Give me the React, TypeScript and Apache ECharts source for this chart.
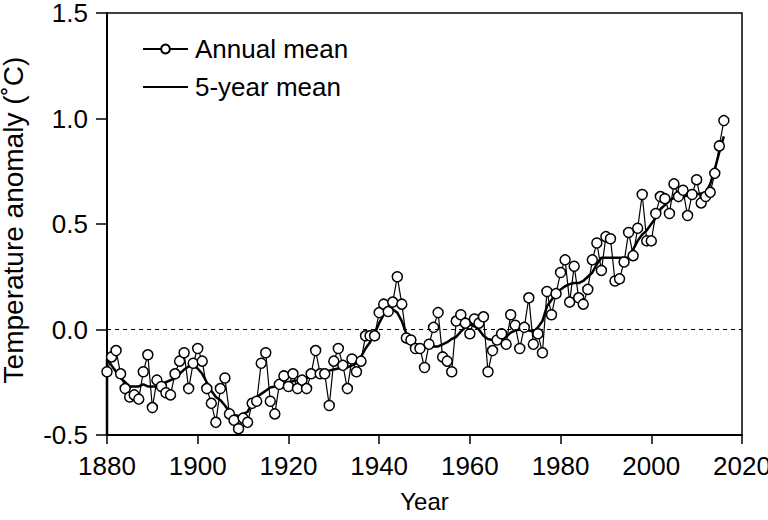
import React, { useEffect, useRef } from "react";
import * as echarts from "echarts";

const startYear = 1880;

const annualMean = [
  -0.20, -0.13, -0.10, -0.21, -0.28, -0.32, -0.31, -0.33, -0.20, -0.12,
  -0.37, -0.24, -0.27, -0.30, -0.31, -0.21, -0.15, -0.11, -0.28, -0.16,
  -0.09, -0.15, -0.28, -0.35, -0.44, -0.28, -0.23, -0.40, -0.43, -0.47,
  -0.42, -0.44, -0.35, -0.34, -0.16, -0.11, -0.34, -0.40, -0.26, -0.22,
  -0.27, -0.21, -0.28, -0.24, -0.28, -0.21, -0.10, -0.21, -0.21, -0.36,
  -0.15, -0.09, -0.17, -0.28, -0.14, -0.20, -0.15, -0.03, -0.03, -0.03,
  0.08, 0.12, 0.085, 0.13, 0.25, 0.12, -0.04, -0.05, -0.09, -0.09,
  -0.18, -0.07, 0.01, 0.08, -0.13, -0.15, -0.20, 0.04, 0.07, 0.03,
  -0.02, 0.05, 0.03, 0.06, -0.20, -0.10, -0.05, -0.02, -0.07, 0.07,
  0.02, -0.09, 0.01, 0.15, -0.07, -0.02, -0.11, 0.18, 0.07, 0.17,
  0.27, 0.33, 0.13, 0.30, 0.15, 0.12, 0.19, 0.33, 0.41, 0.28,
  0.44, 0.43, 0.23, 0.24, 0.32, 0.46, 0.35, 0.48, 0.64, 0.42,
  0.42, 0.55, 0.63, 0.62, 0.55, 0.69, 0.63, 0.66, 0.54, 0.64,
  0.71, 0.60, 0.63, 0.65, 0.74, 0.87, 0.99,
];

// the 5-year curve in the source begins with a drop to the bottom of the axis at 1880
const fiveYearLead = -0.5;
const fiveYearMean = [
  -0.14, -0.17, -0.20, -0.23, -0.25, -0.27, -0.27, -0.27, -0.26, -0.27,
  -0.27, -0.27, -0.26, -0.25, -0.24, -0.23, -0.21, -0.19, -0.175, -0.17,
  -0.185, -0.21, -0.25, -0.29, -0.32, -0.335, -0.36, -0.39, -0.405, -0.41,
  -0.40, -0.39, -0.35, -0.32, -0.305, -0.29, -0.275, -0.27, -0.26, -0.255,
  -0.25, -0.245, -0.24, -0.235, -0.23, -0.22, -0.21, -0.205, -0.20, -0.195,
  -0.19, -0.185, -0.18, -0.18, -0.17, -0.16, -0.13, -0.09, -0.06, -0.02,
  0.03, 0.07, 0.09, 0.095, 0.08, 0.04, -0.02, -0.05, -0.075, -0.08,
  -0.08, -0.08, -0.08, -0.08, -0.07, -0.06, -0.045, -0.035, -0.01, 0.01,
  0.025, 0.015, 0.0, -0.03, -0.045, -0.05, -0.05, -0.045, -0.035, -0.015,
  -0.005, 0.0, 0.0, -0.005, -0.01, 0.01, 0.04, 0.11, 0.14, 0.17,
  0.19, 0.205, 0.215, 0.22, 0.22, 0.23, 0.25, 0.27, 0.31, 0.34,
  0.34, 0.34, 0.34, 0.34, 0.34, 0.34, 0.38, 0.42, 0.45, 0.47,
  0.50, 0.53, 0.57, 0.59, 0.61, 0.625, 0.63, 0.63, 0.635, 0.64,
  0.64, 0.645, 0.645, 0.69, 0.76, 0.84, 0.915,
];

const xTicks = { min: 1880, max: 2020, interval: 20 };
const yTicks = { min: -0.5, max: 1.5, interval: 0.5 };

const FONT = "'Liberation Sans', Arial, Helvetica, sans-serif";

export default function App() {
  const ref = useRef<HTMLDivElement>(null);

  useEffect(() => {
    document.body.style.margin = "0";
    if (!ref.current) return;
    const chart = echarts.init(ref.current, undefined, { renderer: "svg" });

    const annualData = annualMean.map((v, i) => [startYear + i, v]);
    const fiveData = [[startYear, fiveYearLead]].concat(
      fiveYearMean.map((v, i) => [startYear + i, v])
    );

    chart.setOption({
      animation: false,
      backgroundColor: "#ffffff",
      textStyle: { fontFamily: FONT, color: "#000" },
      grid: {
        left: 107,
        right: 26,
        top: 13,
        bottom: 85,
        outerBoundsMode: "none",
        containLabel: false,
        show: true,
        borderColor: "#000",
        borderWidth: 1.5,
        backgroundColor: "transparent",
      },
      legend: {
        left: 137,
        top: 31,
        orient: "vertical",
        itemWidth: 45,
        itemHeight: 11,
        itemGap: 12,
        data: [
          { name: "Annual mean" },
          { name: "5-year mean", itemStyle: { opacity: 0 } },
        ],
        textStyle: {
          fontSize: 26,
          fontFamily: FONT,
          color: "#000",
          padding: [0, 0, 0, 2],
        },
      },
      xAxis: {
        type: "value",
        min: xTicks.min,
        max: xTicks.max,
        interval: xTicks.interval,
        name: "Year",
        nameLocation: "middle",
        nameGap: 54,
        nameTextStyle: { fontSize: 24, fontFamily: FONT, color: "#000" },
        axisLine: { show: true, onZero: false, lineStyle: { color: "#000", width: 2 } },
        axisTick: { show: true, inside: false, length: 9, lineStyle: { color: "#000", width: 1.5 } },
        axisLabel: {
          fontSize: 26,
          fontFamily: FONT,
          color: "#000",
          margin: 18,
          formatter: (v: number) => String(v),
        },
        splitLine: { show: false },
      },
      yAxis: {
        type: "value",
        min: yTicks.min,
        max: yTicks.max,
        interval: yTicks.interval,
        name: "Temperature anomaly (˚C)",
        nameLocation: "middle",
        nameGap: 80,
        nameTextStyle: {
          fontSize: 28,
          fontFamily: FONT,
          color: "#000",
          padding: [0, 0, 0, 8],
        },
        axisLine: { show: true, onZero: false, lineStyle: { color: "#000", width: 2 } },
        axisTick: { show: true, inside: false, length: 11, lineStyle: { color: "#000", width: 1.5 } },
        axisLabel: {
          fontSize: 26,
          fontFamily: FONT,
          color: "#000",
          margin: 19,
          formatter: (v: number) => v.toFixed(1),
        },
        splitLine: { show: false },
      },
      series: [
        {
          name: "5-year mean",
          type: "line",
          data: fiveData,
          showSymbol: false,
          symbol: "none",
          smooth: false,
          lineStyle: { color: "#000", width: 2.5 },
          itemStyle: { color: "#000" },
          z: 2,
        },
        {
          name: "Annual mean",
          type: "line",
          data: annualData,
          symbol: "circle",
          symbolSize: 10,
          showAllSymbol: true,
          lineStyle: { color: "#000", width: 1.2 },
          itemStyle: { color: "#fff", borderColor: "#000", borderWidth: 1.5 },
          z: 3,
          markLine: {
            silent: true,
            symbol: "none",
            label: { show: false },
            lineStyle: { color: "#000", width: 1.2, type: [4, 4] },
            data: [{ yAxis: 0 }],
          },
        },
      ],
    });

    return () => chart.dispose();
  }, []);

  return <div ref={ref} style={{ width: 768, height: 520 }} />;
}
